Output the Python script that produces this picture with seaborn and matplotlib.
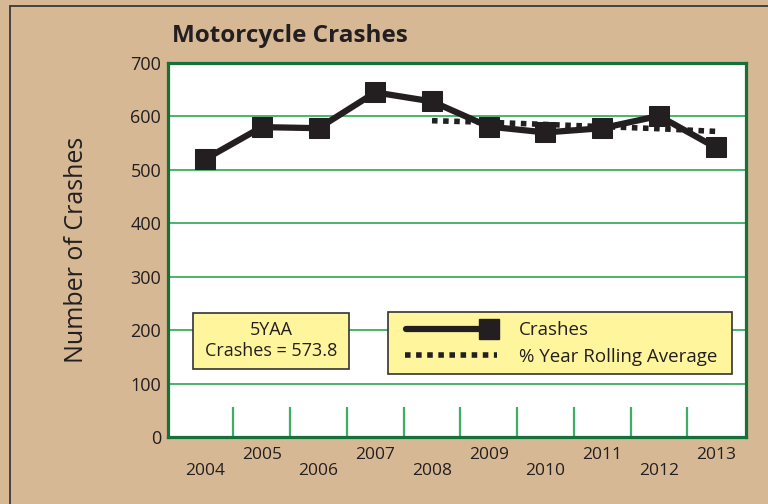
import numpy as np
import pandas as pd
import matplotlib
matplotlib.use("Agg")
import matplotlib.pyplot as plt
from matplotlib.lines import Line2D
from matplotlib.patches import Rectangle
import seaborn as sns

sns.set_theme(style="white")
plt.rcParams['font.family'] = ['Open Sans', 'DejaVu Sans']

# values
years = [2004, 2005, 2006, 2007, 2008, 2009, 2010, 2011, 2012, 2013]
crashes = [520, 580, 578, 645, 628, 581, 570, 578, 601, 542]
avg_years = [2008, 2009, 2010, 2011, 2012, 2013]
rolling_avg = [592, 589, 585, 581, 577, 572]
yticks = [0, 100, 200, 300, 400, 500, 600, 700]
fiveyaa = 573.8

tan = "#D6B894"
txt = "#231F20"
grid_green = "#3DAE62"
spine_green = "#16703A"
box_yellow = "#FFF59D"

df = pd.DataFrame({"year": years, "crashes": crashes})
avg = pd.DataFrame({"year": avg_years, "avg": rolling_avg})

fig = plt.figure(figsize=(7.68, 5.04), dpi=100, facecolor=tan)
ax = fig.add_axes([0.219, 0.133, 0.752, 0.742])
ax.set_facecolor("white")

for y in yticks[1:-1]:
    ax.axhline(y, color=grid_green, lw=1.3, zorder=1)
# little ticks between the years
ax.vlines(np.array(years[:-1]) + 0.5, 0, 56, color=grid_green, lw=1.6, zorder=1)

sns.lineplot(data=avg, x="year", y="avg", ax=ax, color=txt, lw=4,
             linestyle=(0, (1, 1)), zorder=2)
sns.lineplot(data=df, x="year", y="crashes", ax=ax, color=txt, lw=4.5,
             marker="s", markersize=14, markeredgecolor=txt, zorder=3)

ax.set_xlim(2003.35, 2013.53)
ax.set_ylim(0, 700)
ax.set_yticks(yticks)
ax.set_yticklabels([str(v) for v in yticks], fontsize=13, color=txt)
ax.set_xticks(years)
ax.set_xticklabels([str(y) for y in years], fontsize=12.5, color=txt)
ax.tick_params(axis="both", length=0)
ax.tick_params(axis="y", pad=5)
for i, t in enumerate(ax.xaxis.get_major_ticks()):
    t.set_pad(19 if i % 2 == 0 else 7)
ax.set_xlabel("")
ax.set_ylabel("Number of Crashes", fontsize=18, color=txt, labelpad=30)
for s in ax.spines.values():
    s.set_color(spine_green)
    s.set_linewidth(2.3)

fig.text(0.224, 0.928, "Motorcycle Crashes", fontsize=17.5, fontweight="bold",
         color=txt, ha="left", va="center")

# 5YAA box
ax.add_patch(Rectangle((0.043, 0.181), 0.27, 0.151, transform=ax.transAxes,
                       facecolor=box_yellow, edgecolor="#333333", lw=1.2, zorder=4))
ax.text(0.178, 0.257, "5YAA\nCrashes = %.1f" % fiveyaa, transform=ax.transAxes,
        ha="center", va="center", fontsize=13, color=txt, linespacing=1.2, zorder=5)

# legend box
ax.add_patch(Rectangle((0.381, 0.169), 0.596, 0.164, transform=ax.transAxes,
                       facecolor=box_yellow, edgecolor="#333333", lw=1.2, zorder=4))
ax.plot([0.412, 0.565], [0.288, 0.288], transform=ax.transAxes, color=txt, lw=4.5, zorder=5)
ax.plot([0.556], [0.288], transform=ax.transAxes, marker="s", markersize=14,
        color=txt, zorder=5)
ax.plot([0.41, 0.57], [0.218, 0.218], transform=ax.transAxes, color=txt, lw=4,
        linestyle=(0, (1, 1)), zorder=5)
ax.text(0.608, 0.285, "Crashes", transform=ax.transAxes, ha="left", va="center",
        fontsize=13.5, color=txt, zorder=5)
ax.text(0.608, 0.215, "% Year Rolling Average", transform=ax.transAxes, ha="left",
        va="center", fontsize=13.5, color=txt, zorder=5)

# outer frame (top and left edges)
fig.add_artist(Line2D([0.013, 1.0], [0.989, 0.989], transform=fig.transFigure,
                      color="#3a3a3a", lw=1.3))
fig.add_artist(Line2D([0.013, 0.013], [0.0, 0.989], transform=fig.transFigure,
                      color="#3a3a3a", lw=1.3))

fig.savefig("out.png", dpi=100, facecolor=tan)
